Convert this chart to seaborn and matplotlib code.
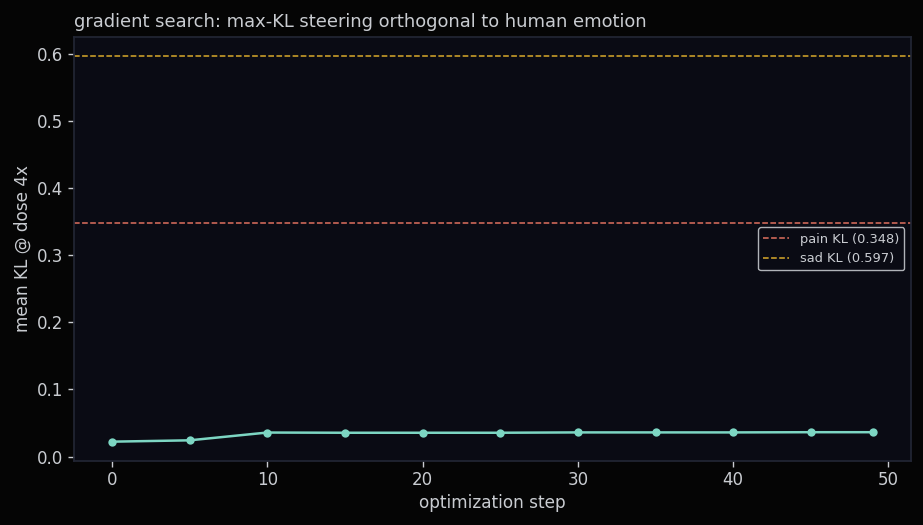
import matplotlib
matplotlib.use("Agg")
import matplotlib.pyplot as plt
import seaborn as sns
import pandas as pd

steps = [0, 5, 10, 15, 20, 25, 30, 35, 40, 45, 49]
mean_kl = [0.0222, 0.0242, 0.0358, 0.0355, 0.0355, 0.0355, 0.0360, 0.0360, 0.0360, 0.0363, 0.0363]
pain_kl = 0.348
sad_kl = 0.597

title = "gradient search: max-KL steering orthogonal to human emotion"
xlabel = "optimization step"
ylabel = "mean KL @ dose 4x"

fig_bg = "#050505"
ax_bg = "#0a0b14"
text_c = "#c9ccd1"
spine_c = "#222634"

sns.set_theme(style="dark")
plt.rcParams["font.family"] = ["DejaVu Sans"]

fig, ax = plt.subplots(figsize=(9.23, 5.25), dpi=100)
fig.patch.set_facecolor(fig_bg)
ax.set_facecolor(ax_bg)

df = pd.DataFrame({"step": steps, "kl": mean_kl})
sns.lineplot(data=df, x="step", y="kl", ax=ax, color="#7dd6c3", marker="o",
             markersize=6, markeredgewidth=0, linewidth=1.8)

ax.axhline(pain_kl, color="#e0705f", linestyle="--", linewidth=1.1, label=f"pain KL ({pain_kl:.3f})")
ax.axhline(sad_kl, color="#d9aa2b", linestyle="--", linewidth=1.1, label=f"sad KL ({sad_kl:.3f})")

ax.set_title(title, loc="left", color=text_c, fontsize=12.9, pad=7)
ax.set_xlabel(xlabel, color=text_c, fontsize=12.2, labelpad=3)
ax.set_ylabel(ylabel, color=text_c, fontsize=12.2, labelpad=4)
ax.tick_params(colors=text_c, labelsize=12, length=4.5, width=1, color=text_c,
               bottom=True, left=True, pad=3)
for s in ax.spines.values():
    s.set_color(spine_c)
ax.grid(False)

leg = ax.legend(loc="center right", fontsize=9.4, facecolor=ax_bg, edgecolor="#b0b3b8",
                labelcolor=text_c, framealpha=1.0)
leg.get_frame().set_linewidth(1.0)

fig.subplots_adjust(left=0.080, right=0.987, top=0.930, bottom=0.122)
fig.savefig("out.png", dpi=100, facecolor=fig_bg)
